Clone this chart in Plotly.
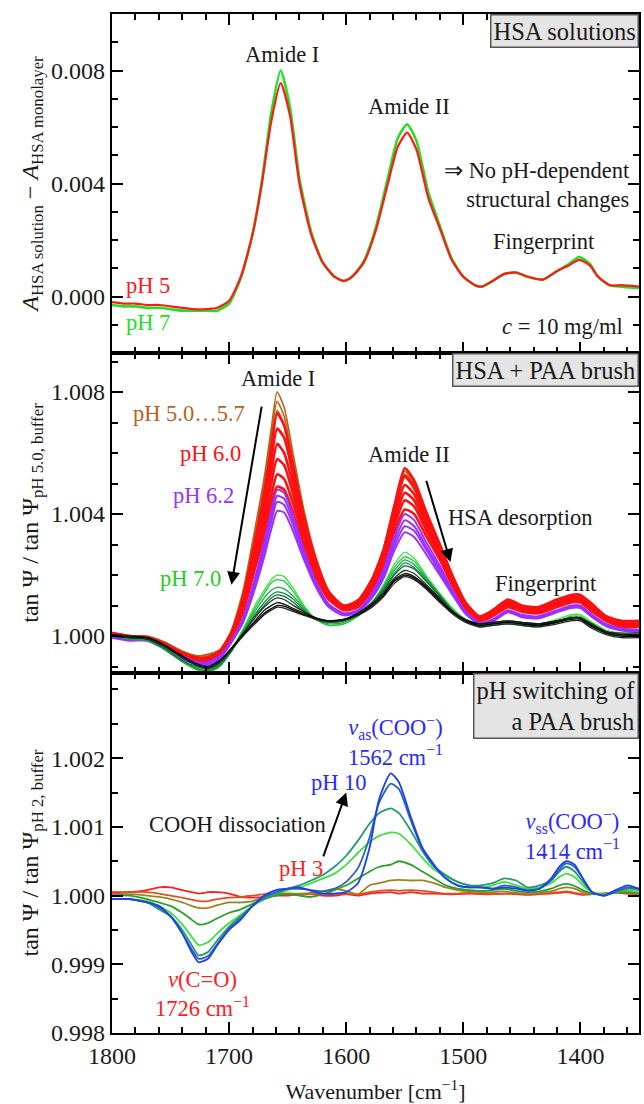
import plotly.graph_objects as go

# ---------------- data ----------------
# Top panel: A_HSA solution - A_HSA monolayer, values in units of 1e-3
wn_top = [1800,1790,1780,1770,1760,1750,1740,1730,1720,1710,1700,1690,1680,1672,1664,1656,1648,1640,1630,1620,
          1610,1602,1595,1585,1575,1565,1556,1548,1540,1530,1520,1510,1500,1490,1484,1475,1465,1455,1445,1432,
          1420,1410,1401,1392,1385,1375,1365,1350]
top_pH5 = [-0.2,-0.25,-0.25,-0.3,-0.3,-0.35,-0.4,-0.45,-0.45,-0.4,-0.15,0.7,2.2,4.0,6.2,7.55,6.4,4.0,2.2,1.2,
           0.7,0.55,0.7,1.2,2.3,3.9,5.3,5.8,5.2,3.5,2.4,1.3,0.7,0.4,0.35,0.55,0.8,0.85,0.7,0.6,
           0.9,1.1,1.3,1.1,0.7,0.4,0.4,0.35]
top_pH7 = [-0.3,-0.35,-0.35,-0.4,-0.4,-0.45,-0.5,-0.5,-0.5,-0.5,-0.25,0.65,2.2,4.1,6.5,8.0,6.7,4.2,2.3,1.2,
           0.7,0.55,0.7,1.25,2.4,4.1,5.6,6.1,5.5,3.7,2.5,1.35,0.7,0.4,0.35,0.55,0.8,0.85,0.7,0.6,
           0.9,1.15,1.4,1.15,0.7,0.4,0.35,0.3]

# Middle panel: tanPsi/tanPsi(pH5.0) - 1, in units of 1e-3
wn_mid = [1800,1785,1770,1755,1740,1728,1718,1708,1698,1688,1678,1670,1664,1659,1653,1645,1636,1626,1615,1602,
          1590,1578,1568,1559,1550,1542,1532,1520,1510,1498,1486,1475,1462,1450,1436,1420,1408,1400,1390,1378,
          1365,1350]
mid_brown = [
 [0.1,0.0,0.0,-0.2,-0.5,-0.65,-0.6,-0.45,0.2,1.5,3.5,5.2,6.8,8.0,7.5,5.9,4.1,2.6,1.5,1.0,1.2,1.9,2.9,4.3,5.4,5.0,4.0,2.9,2.0,1.1,0.6,0.8,1.1,0.9,0.9,1.1,1.3,1.3,1.0,0.6,0.5,0.5],
 [0.1,0.0,-0.05,-0.2,-0.5,-0.65,-0.6,-0.45,0.15,1.4,3.3,5.0,6.6,7.7,7.2,5.7,4.0,2.5,1.45,1.0,1.15,1.85,2.85,4.2,5.3,4.9,3.9,2.85,1.95,1.05,0.6,0.75,1.05,0.9,0.85,1.05,1.25,1.25,0.95,0.6,0.45,0.45],
 [0.05,-0.05,-0.05,-0.25,-0.55,-0.7,-0.65,-0.5,0.1,1.3,3.2,4.8,6.3,7.4,6.9,5.5,3.9,2.45,1.4,0.95,1.1,1.8,2.8,4.1,5.2,4.8,3.85,2.8,1.9,1.0,0.55,0.7,1.0,0.85,0.8,1.0,1.2,1.2,0.9,0.55,0.4,0.4],
]
mid_red = [
 [0.1,0.0,-0.05,-0.25,-0.55,-0.7,-0.7,-0.5,0.1,1.3,3.1,4.7,6.2,7.3,6.9,5.5,3.9,2.5,1.45,1.0,1.15,1.85,2.85,4.25,5.5,5.1,4.1,3.0,2.05,1.1,0.65,0.85,1.2,1.0,0.95,1.2,1.35,1.35,1.05,0.65,0.5,0.5],
 [0.1,0.0,-0.05,-0.25,-0.55,-0.7,-0.7,-0.5,0.05,1.2,2.9,4.4,5.8,6.8,6.5,5.2,3.7,2.4,1.4,0.95,1.1,1.8,2.75,4.1,5.25,4.9,3.95,2.9,1.95,1.05,0.6,0.8,1.15,0.95,0.9,1.15,1.3,1.3,1.0,0.6,0.45,0.45],
 [0.05,-0.05,-0.05,-0.3,-0.6,-0.75,-0.75,-0.55,0.0,1.1,2.75,4.1,5.4,6.3,6.0,4.9,3.5,2.3,1.35,0.95,1.05,1.7,2.6,3.9,4.95,4.65,3.8,2.8,1.9,1.0,0.6,0.75,1.1,0.9,0.85,1.1,1.25,1.25,0.95,0.6,0.4,0.4],
 [0.05,-0.05,-0.1,-0.3,-0.6,-0.75,-0.75,-0.55,-0.05,1.0,2.55,3.8,5.0,5.8,5.6,4.6,3.3,2.2,1.3,0.9,1.0,1.65,2.5,3.75,4.7,4.45,3.65,2.7,1.85,1.0,0.55,0.7,1.05,0.9,0.85,1.05,1.2,1.2,0.9,0.55,0.4,0.4],
 [0.0,-0.05,-0.1,-0.3,-0.6,-0.8,-0.8,-0.6,-0.1,0.9,2.35,3.5,4.6,5.3,5.15,4.3,3.1,2.05,1.25,0.9,1.0,1.6,2.4,3.6,4.45,4.25,3.5,2.6,1.8,0.95,0.55,0.7,1.0,0.85,0.8,1.0,1.15,1.15,0.85,0.5,0.35,0.35],
 [0.0,-0.05,-0.1,-0.35,-0.65,-0.8,-0.8,-0.6,-0.1,0.8,2.2,3.3,4.3,4.9,4.8,4.0,2.9,1.95,1.2,0.85,0.95,1.5,2.3,3.4,4.15,4.0,3.3,2.5,1.7,0.9,0.5,0.65,0.95,0.8,0.75,0.95,1.1,1.1,0.8,0.5,0.3,0.3],
]
mid_purple = [
 [0.0,-0.1,-0.1,-0.35,-0.65,-0.85,-0.85,-0.65,-0.15,0.6,1.9,3.1,4.1,4.8,4.7,3.9,2.8,1.8,1.05,0.75,0.85,1.4,2.2,3.25,4.0,3.8,3.1,2.3,1.55,0.8,0.45,0.55,0.85,0.7,0.65,0.85,1.0,1.0,0.7,0.4,0.25,0.2],
 [0.0,-0.1,-0.1,-0.35,-0.7,-0.85,-0.9,-0.7,-0.15,0.55,1.8,2.95,3.9,4.6,4.5,3.75,2.7,1.75,1.0,0.72,0.82,1.35,2.1,3.1,3.8,3.6,2.95,2.2,1.5,0.78,0.43,0.52,0.82,0.68,0.62,0.82,0.97,0.97,0.68,0.38,0.22,0.18],
 [-0.05,-0.1,-0.15,-0.4,-0.7,-0.9,-0.9,-0.7,-0.2,0.5,1.7,2.8,3.75,4.4,4.3,3.6,2.6,1.7,0.98,0.7,0.8,1.3,2.0,2.95,3.6,3.45,2.85,2.1,1.45,0.75,0.42,0.5,0.8,0.65,0.6,0.8,0.95,0.95,0.65,0.35,0.2,0.15],
 [-0.05,-0.15,-0.15,-0.4,-0.75,-0.9,-0.95,-0.75,-0.2,0.45,1.55,2.6,3.5,4.1,4.05,3.4,2.5,1.62,0.95,0.68,0.78,1.25,1.9,2.8,3.4,3.25,2.7,2.0,1.4,0.72,0.4,0.48,0.78,0.62,0.58,0.78,0.92,0.92,0.62,0.32,0.18,0.12],
]
mid_green = [
 [0.05,-0.05,-0.1,-0.4,-0.8,-1.05,-1.15,-0.95,-0.45,0.25,1.0,1.5,1.85,2.0,1.95,1.55,1.0,0.55,0.35,0.4,0.65,1.1,1.7,2.35,2.75,2.55,2.0,1.4,0.95,0.55,0.35,0.4,0.45,0.4,0.4,0.55,0.7,0.7,0.45,0.2,0.1,0.05],
 [0.0,-0.05,-0.1,-0.4,-0.8,-1.05,-1.15,-0.95,-0.45,0.2,0.9,1.4,1.75,1.85,1.8,1.45,0.95,0.55,0.35,0.4,0.65,1.1,1.65,2.25,2.6,2.45,1.95,1.35,0.9,0.5,0.3,0.35,0.45,0.35,0.35,0.5,0.65,0.65,0.4,0.15,0.05,0.0],
 [0.0,-0.1,-0.15,-0.45,-0.85,-1.1,-1.2,-1.0,-0.5,0.15,0.8,1.25,1.5,1.6,1.55,1.3,0.9,0.55,0.4,0.45,0.7,1.1,1.6,2.15,2.5,2.35,1.9,1.35,0.9,0.5,0.3,0.35,0.4,0.35,0.3,0.45,0.6,0.6,0.35,0.1,0.0,-0.05],
 [0.05,-0.05,-0.1,-0.4,-0.8,-1.05,-1.15,-0.95,-0.5,0.1,0.7,1.1,1.35,1.45,1.4,1.2,0.85,0.55,0.45,0.5,0.7,1.1,1.55,2.05,2.4,2.25,1.85,1.3,0.85,0.5,0.35,0.4,0.45,0.4,0.35,0.5,0.6,0.6,0.35,0.1,0.05,0.0],
 [0.0,-0.05,-0.1,-0.4,-0.8,-1.0,-1.1,-0.9,-0.45,0.1,0.65,1.0,1.25,1.35,1.3,1.1,0.8,0.55,0.45,0.5,0.75,1.1,1.5,2.0,2.3,2.2,1.8,1.3,0.85,0.5,0.35,0.4,0.45,0.4,0.35,0.5,0.6,0.6,0.35,0.1,0.05,0.0],
]
mid_black = [
 [0.05,0.0,-0.05,-0.3,-0.7,-0.95,-1.05,-0.85,-0.4,0.1,0.6,0.95,1.15,1.25,1.2,1.0,0.8,0.6,0.5,0.55,0.75,1.05,1.45,1.9,2.15,2.05,1.7,1.25,0.85,0.55,0.4,0.45,0.5,0.45,0.4,0.5,0.6,0.6,0.4,0.15,0.1,0.1],
 [0.05,0.0,-0.05,-0.3,-0.7,-0.95,-1.05,-0.85,-0.4,0.05,0.5,0.85,1.0,1.1,1.05,0.9,0.75,0.6,0.5,0.55,0.75,1.05,1.4,1.85,2.05,1.95,1.65,1.2,0.8,0.5,0.4,0.45,0.5,0.45,0.4,0.5,0.6,0.6,0.35,0.15,0.05,0.05],
 [0.0,-0.05,-0.05,-0.3,-0.65,-0.9,-1.0,-0.8,-0.4,0.05,0.45,0.75,0.9,1.0,0.98,0.85,0.7,0.58,0.5,0.55,0.7,1.0,1.35,1.8,2.0,1.9,1.6,1.15,0.8,0.5,0.35,0.4,0.45,0.4,0.35,0.45,0.55,0.55,0.3,0.1,0.0,0.0],
 [0.0,-0.05,-0.1,-0.35,-0.7,-0.95,-1.05,-0.85,-0.45,0.0,0.4,0.7,0.85,0.95,0.92,0.8,0.68,0.55,0.48,0.52,0.68,0.95,1.3,1.72,1.95,1.85,1.55,1.1,0.75,0.45,0.3,0.35,0.4,0.35,0.3,0.4,0.5,0.5,0.25,0.05,-0.05,-0.05],
]

# Bottom panel: tanPsi/tanPsi(pH2) - 1, in units of 1e-3 (pH 3 ... pH 10)
wn_bot = [1800,1785,1770,1760,1750,1740,1732,1726,1718,1710,1700,1690,1680,1670,1660,1650,1640,1630,1620,1610,
          1600,1590,1580,1572,1562,1555,1545,1535,1525,1515,1505,1495,1485,1475,1465,1455,1445,1435,1425,1418,
          1412,1405,1398,1390,1380,1370,1360,1350]
bot_red = [0.05,0.05,0.08,0.12,0.12,0.08,0.05,0.03,0.05,0.05,0.03,-0.02,-0.03,-0.02,0.0,0.0,0.02,0.02,0.0,0.0,
           0.02,0.0,0.03,0.04,0.05,0.03,0.05,0.03,0.03,0.02,0.02,0.03,0.02,0.02,0.03,0.02,0.01,0.02,0.03,0.04,
           0.05,0.03,0.01,0.02,0.03,0.05,0.03,0.02]
bot_orange = [0.02,0.05,0.05,0.03,0.0,-0.03,-0.06,-0.08,-0.08,-0.05,-0.03,-0.02,0.0,0.02,0.03,0.03,0.02,0.02,0.03,0.02,
              0.03,0.02,0.05,0.07,0.08,0.07,0.08,0.07,0.05,0.03,0.03,0.04,0.03,0.02,0.03,0.03,0.02,0.03,0.04,0.05,
              0.06,0.04,0.02,0.02,0.03,0.04,0.03,0.02]
bot_olive = [0.0,0.02,0.0,-0.02,-0.05,-0.1,-0.15,-0.18,-0.18,-0.14,-0.1,-0.1,-0.08,-0.02,0.02,0.03,0.03,0.04,0.06,0.1,
             0.07,0.02,0.15,0.18,0.22,0.23,0.22,0.22,0.18,0.12,0.08,0.06,0.05,0.05,0.06,0.04,0.03,0.04,0.06,0.1,
             0.12,0.1,0.05,0.03,0.03,0.05,0.05,0.04]
bot_green = [0.0,0.0,-0.05,-0.1,-0.15,-0.25,-0.35,-0.42,-0.4,-0.33,-0.25,-0.2,-0.12,-0.05,0.0,0.02,0.0,-0.02,0.02,0.08,
             0.15,0.25,0.35,0.42,0.45,0.5,0.45,0.35,0.25,0.15,0.1,0.08,0.07,0.08,0.1,0.07,0.05,0.06,0.1,0.15,
             0.17,0.14,0.08,0.03,0.02,0.04,0.05,0.04]
bot_lightgreen = [-0.05,-0.05,-0.08,-0.15,-0.25,-0.42,-0.6,-0.72,-0.68,-0.55,-0.4,-0.28,-0.15,-0.05,0.02,0.08,0.12,0.18,0.25,0.32,
                  0.45,0.62,0.78,0.87,0.92,0.9,0.75,0.55,0.38,0.28,0.2,0.15,0.12,0.15,0.2,0.15,0.1,0.12,0.18,0.27,
                  0.32,0.27,0.15,0.05,0.02,0.05,0.08,0.05]
bot_teal = [-0.05,-0.05,-0.1,-0.2,-0.3,-0.5,-0.72,-0.87,-0.82,-0.65,-0.45,-0.3,-0.15,-0.05,0.02,0.1,0.15,0.22,0.3,0.42,
            0.58,0.8,1.05,1.2,1.27,1.2,0.95,0.65,0.42,0.3,0.2,0.15,0.15,0.18,0.25,0.22,0.12,0.15,0.22,0.35,
            0.42,0.35,0.2,0.05,0.0,0.05,0.1,0.08]
bot_steel = [-0.05,-0.05,-0.1,-0.17,-0.3,-0.55,-0.78,-0.92,-0.88,-0.7,-0.48,-0.33,-0.15,-0.02,0.05,0.1,0.1,0.08,0.06,0.1,
             0.2,0.4,0.85,1.35,1.63,1.55,1.1,0.68,0.43,0.25,0.15,0.12,0.12,0.1,0.15,0.12,0.08,0.1,0.22,0.38,
             0.47,0.42,0.25,0.05,0.0,0.06,0.12,0.1]
bot_blue = [-0.05,-0.05,-0.1,-0.15,-0.3,-0.55,-0.82,-0.97,-0.92,-0.72,-0.5,-0.35,-0.15,0.0,0.08,0.1,0.12,0.07,0.03,0.03,
            0.05,0.18,0.7,1.4,1.78,1.65,1.15,0.7,0.45,0.25,0.15,0.12,0.12,0.1,0.12,0.1,0.07,0.1,0.25,0.42,
            0.5,0.45,0.25,0.05,0.0,0.08,0.15,0.1]

# ---------------- figure ----------------
FONT = "Liberation Serif, Times New Roman, serif"
TXT = "#1a1a1a"
fig = go.Figure()

def add(x, vals, color, width, xa, ya, base=0.0):
    fig.add_trace(go.Scatter(
        x=x, y=[base + v / 1000.0 for v in vals], mode="lines",
        line=dict(color=color, width=width, shape="spline", smoothing=0.6),
        xaxis=xa, yaxis=ya, showlegend=False, hoverinfo="skip"))

# top
add(wn_top, top_pH7, "#22e022", 2.6, "x", "y")
add(wn_top, top_pH5, "#ff1a1a", 2.2, "x", "y")

# middle
for c in mid_brown:
    add(wn_mid, c, "#b8621b", 1.6, "x2", "y2", 1.0)
for c in mid_red:
    add(wn_mid, c, "#ff1010", 2.6, "x2", "y2", 1.0)
for c in mid_purple:
    add(wn_mid, c, "#9b30ff", 2.0, "x2", "y2", 1.0)
green_cols = ["#3de63d", "#25c83a", "#17a847", "#128c3c", "#0e6e33"]
for c, col in zip(mid_green, green_cols):
    add(wn_mid, c, col, 1.3, "x2", "y2", 1.0)
black_cols = ["#1d3a22", "#151515", "#000000", "#222222"]
for c, col in zip(mid_black, black_cols):
    add(wn_mid, c, col, 1.3, "x2", "y2", 1.0)

# bottom
bot_series = [(bot_red, "#ff2020"), (bot_orange, "#e0501e"), (bot_olive, "#9a8420"),
              (bot_green, "#2aa02a"), (bot_lightgreen, "#3ee03e"), (bot_teal, "#229a72"),
              (bot_steel, "#2a64b8"), (bot_blue, "#1f3ff0")]
for vals, col in bot_series:
    add(wn_bot, vals, col, 1.8, "x3", "y3", 1.0)

# ---------------- axes ----------------
total_h = 1033 - 14
d_top = [(1033 - 353) / total_h, 1.0]
d_mid = [(1033 - 673) / total_h, (1033 - 353) / total_h]
d_bot = [0.0, (1033 - 673) / total_h]

def xax(dom_anchor, labels):
    return dict(range=[1800, 1350], anchor=dom_anchor, showline=True, linecolor="black", linewidth=2.4,
                mirror="allticks", ticks="inside", ticklen=11, tickwidth=2, tickcolor="black",
                dtick=100, tick0=1800, showticklabels=labels, showgrid=False, zeroline=False,
                tickfont=dict(family=FONT, size=24, color=TXT),
                minor=dict(ticks="inside", dtick=20, tick0=1800, ticklen=6, tickwidth=2, tickcolor="black", showgrid=False))

def yax(dom, rng, tickvals, fmt, mdtick, mtick0, title, anchor):
    return dict(domain=dom, range=rng, anchor=anchor, showline=True, linecolor="black", linewidth=2.4,
                mirror="allticks", ticks="inside", ticklen=11, tickwidth=2, tickcolor="black",
                tickvals=tickvals, tickformat=fmt, showgrid=False, zeroline=False,
                tickfont=dict(family=FONT, size=24, color=TXT),
                minor=dict(ticks="inside", dtick=mdtick, tick0=mtick0, ticklen=6, tickwidth=2, tickcolor="black", showgrid=False),
                title=dict(text=title, font=dict(family=FONT, size=24, color=TXT), standoff=6))

fig.update_layout(
    width=644, height=1104, plot_bgcolor="white", paper_bgcolor="white",
    margin=dict(l=112, r=3, t=14, b=71),
    xaxis=dict(**xax("y", False), matches="x3"),
    xaxis2=dict(**xax("y2", False), matches="x3"),
    xaxis3=dict(**xax("y3", True),
                title=dict(text="Wavenumber [cm<sup>−1</sup>]", font=dict(family=FONT, size=22, color=TXT), standoff=16)),
    yaxis=yax(d_top, [-0.002, 0.010], [0.0, 0.004, 0.008], ".3f", 0.001, 0.0,
              "<i>A</i><sub>HSA solution</sub> − <i>A</i><sub>HSA monolayer</sub>", "x"),
    yaxis2=yax(d_mid, [0.99879, 1.00928], [1.000, 1.004, 1.008], ".3f", 0.001, 1.0,
               "tan Ψ / tan Ψ<sub>pH 5.0, buffer</sub>", "x2"),
    yaxis3=yax(d_bot, [0.998, 1.00324], [0.998, 0.999, 1.000, 1.001, 1.002], ".3f", 0.0005, 1.0,
               "tan Ψ / tan Ψ<sub>pH 2, buffer</sub>", "x3"),
)

ann = []
def txt(x, y, s, xr, yr, color=TXT, xanchor="center", size=22.5, align="center"):
    ann.append(dict(x=x, y=y, xref=xr, yref=yr, text=s, showarrow=False, xanchor=xanchor, yanchor="middle",
                    align=align, font=dict(family=FONT, size=size, color=color)))

def box(s, xr, yr):
    ann.append(dict(x=1, y=1, xref=xr + " domain", yref=yr + " domain", text=s, showarrow=False,
                    xanchor="right", yanchor="top", align="right", bgcolor="#e4e4e4", bordercolor="#555555",
                    borderwidth=1.5, borderpad=2, font=dict(family=FONT, size=24.5, color=TXT)))

def arrow(x0, y0, x1, y1, xr, yr):
    ann.append(dict(x=x1, y=y1, ax=x0, ay=y0, xref=xr, yref=yr, axref=xr, ayref=yr, showarrow=True,
                    arrowhead=2, arrowsize=1.3, arrowwidth=2, arrowcolor="black", text=""))

# top panel texts
box("HSA solutions", "x", "y")
txt(1655, 0.00857, "Amide I", "x", "y")
txt(1546, 0.00671, "Amide II", "x", "y")
txt(1431, 0.00195, "Fingerprint", "x", "y")
txt(1356, 0.00394, "⇒ No pH-dependent<br>structural changes", "x", "y", xanchor="right", align="right")
txt(1790, 0.00038, "pH 5", "x", "y", color="#ff1a1a", xanchor="left")
txt(1790, -0.00092, "pH 7", "x", "y", color="#22e022", xanchor="left")
txt(1362, -0.00106, "<i>c</i> = 10 mg/ml", "x", "y", xanchor="right")

# middle panel texts
box("HSA + PAA brush", "x2", "y2")
txt(1658, 1.00843, "Amide I", "x2", "y2")
txt(1546, 1.00595, "Amide II", "x2", "y2")
txt(1429, 1.00173, "Fingerprint", "x2", "y2")
txt(1515, 1.00389, "HSA desorption", "x2", "y2", xanchor="left")
txt(1685, 1.0073, "pH 5.0…5.7", "x2", "y2", color="#b8621b", xanchor="right")
txt(1688, 1.0060, "pH 6.0", "x2", "y2", color="#ff1010", xanchor="right")
txt(1694, 1.0046, "pH 6.2", "x2", "y2", color="#9b30ff", xanchor="right")
txt(1705, 1.0019, "pH 7.0", "x2", "y2", color="#22cc22", xanchor="right")
arrow(1672, 1.00757, 1698, 1.00168, "x2", "y2")
arrow(1532, 1.00514, 1511, 1.00243, "x2", "y2")

# bottom panel texts
box("pH switching of<br>a PAA brush", "x3", "y3")
txt(1558, 1.00225, "<i>ν</i><sub>as</sub>(COO<sup>−</sup>)<br>1562 cm<sup>−1</sup>", "x3", "y3", color="#2a2aff")
txt(1407, 1.00088, "<i>ν</i><sub>ss</sub>(COO<sup>−</sup>)<br>1414 cm<sup>−1</sup>", "x3", "y3", color="#2a2aff")
txt(1606, 1.00164, "pH 10", "x3", "y3", color="#2a2aff")
txt(1693, 1.00104, "COOH dissociation", "x3", "y3")
txt(1639, 1.00039, "pH 3", "x3", "y3", color="#ff2020")
txt(1723, 0.99857, "<i>ν</i>(C=O)<br>1726 cm<sup>−1</sup>", "x3", "y3", color="#ff2020")
arrow(1620, 1.00055, 1600, 1.0015, "x3", "y3")

fig.update_layout(annotations=ann)
fig.write_html("out.html")
